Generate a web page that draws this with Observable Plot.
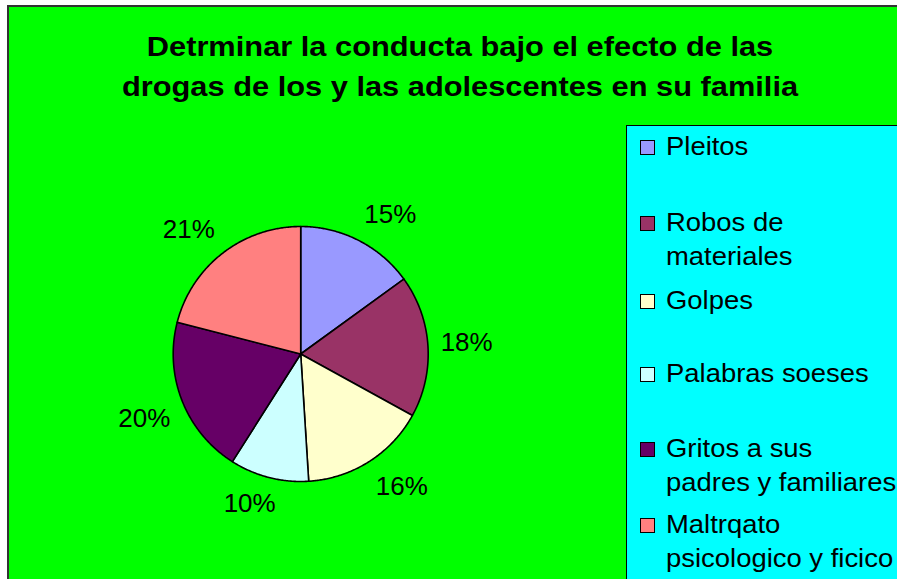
<!DOCTYPE html>
<html><head><meta charset="utf-8">
<script src="https://cdn.jsdelivr.net/npm/d3@7"></script>
<script src="https://cdn.jsdelivr.net/npm/@observablehq/plot@0.6"></script>
<style>
html,body{margin:0;padding:0;background:#fff;}
#wrap{position:relative;width:897px;height:579px;overflow:hidden;font-family:"Liberation Sans",Arial,sans-serif;color:#000;}
#panel{position:absolute;left:7px;top:5px;width:900px;height:600px;background:#00ff00;border-left:2px solid #333;border-top:2px solid #333;}
#title{position:absolute;left:0;width:920px;top:27px;text-align:center;font-weight:bold;font-size:28px;line-height:40px;z-index:3;transform:scaleX(1.1);transform-origin:460px 0;}
#chart{position:absolute;left:0;top:0;z-index:1;}
#legend{position:absolute;left:626px;top:125px;width:300px;height:500px;background:#00ffff;border:1.5px solid #000;z-index:2;}
.item{position:absolute;left:13px;font-size:26px;line-height:33.5px;white-space:nowrap;}
.sw{position:absolute;left:0;top:10px;width:13px;height:13px;border:1px solid #000;}
.tx{position:absolute;left:26px;top:0;transform:scaleX(1.055);transform-origin:0 0;}
</style></head>
<body><div id="wrap"><div id="panel"></div>
<div id="title">Detrminar la conducta bajo el efecto de las<br>drogas de los y las adolescentes en su familia</div>
<div id="chart"></div>
<div id="legend"></div>
</div>
<script>
const categories = ["Pleitos","Robos de materiales","Golpes","Palabras soeses","Gritos a sus padres y familiares","Maltrqato psicologico y ficico"];
const values = [15,18,16,10,20,21];
const colors = ["#9999ff","#993366","#ffffcc","#ccffff","#660066","#ff8080"];
const legendLines = [["Pleitos"],["Robos de","materiales"],["Golpes"],["Palabras soeses"],["Gritos a sus","padres y familiares"],["Maltrqato","psicologico y ficico"]];
const legendTops = [4, 80, 158, 231, 306, 382];

const R = 127.5;            // pie radius in px (1 data unit)
const rows = categories.map((name,i)=>({name, value: values[i]}));
const arcs = d3.pie().sort(null).value(d=>d.value)(rows);
const pts = [];
const labels = [];
for (const a of arcs) {
  const name = a.data.name;
  pts.push({name, x:0, y:0});
  const n = Math.max(2, Math.ceil((a.endAngle - a.startAngle) / (Math.PI/360)));
  for (let k=0;k<=n;k++){
    const t = a.startAngle + (a.endAngle - a.startAngle)*k/n;
    pts.push({name, x:Math.sin(t), y:Math.cos(t)});
  }
  pts.push({name, x:0, y:0});
  const m = (a.startAngle + a.endAngle)/2;
  const s = Math.sin(m), c = Math.cos(m);
  const ox = 26 * Math.sign(s) * Math.min(1, 2.5*Math.abs(s));
  const oy = 14 * Math.sign(c) * Math.min(1, 2.5*Math.abs(c));
  labels.push({x:1.1*s + ox/R, y:1.1*c + oy/R, text: a.data.value + "%"});
}

const chart = Plot.plot({
  width: 897, height: 579,
  marginLeft: 300.2 - R, marginRight: 897 - 300.2 - R, marginTop: 353.5 - R, marginBottom: 579 - 353.5 - R,
  x: {domain:[-1,1], axis:null},
  y: {domain:[-1,1], axis:null},
  color: {domain: categories, range: colors},
  style: {background:"transparent", overflow:"visible", fontFamily:"Liberation Sans, Arial, sans-serif"},
  marks: [
    Plot.line(pts, {x:"x", y:"y", z:"name", fill:"name", stroke:"black", strokeWidth:1.6, strokeLinejoin:"round"}),
    Plot.text(labels, {x:"x", y:"y", text:"text", fontSize:26, fill:"black"})
  ]
});
document.getElementById("chart").appendChild(chart);

const leg = document.getElementById("legend");
categories.forEach((c,i)=>{
  const it = document.createElement("div");
  it.className = "item";
  it.style.top = legendTops[i] + "px";
  const sw = document.createElement("div");
  sw.className = "sw";
  sw.style.background = colors[i];
  it.appendChild(sw);
  const tx = document.createElement("div");
  tx.className = "tx";
  legendLines[i].forEach((l,j)=>{
    if (j) tx.appendChild(document.createElement("br"));
    tx.appendChild(document.createTextNode(l));
  });
  it.appendChild(tx);
  leg.appendChild(it);
});
</script>
</body></html>
